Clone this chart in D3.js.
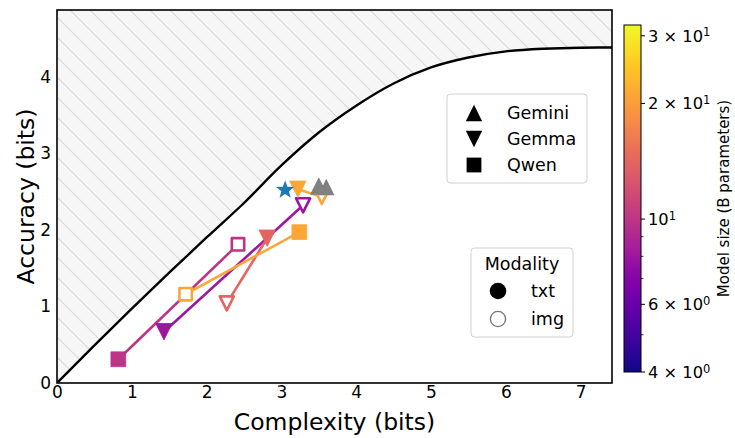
<!DOCTYPE html>
<html>
<head>
<meta charset="utf-8">
<script src="https://cdn.jsdelivr.net/npm/d3@7"></script>
<style>
  html, body { margin: 0; padding: 0; background: #fff; }
  svg { display: block; font-family: "DejaVu Sans", sans-serif; }
</style>
</head>
<body>
<svg id="chart" width="735" height="438"></svg>
<script>
// ---- data ----
const families = ["Gemini", "Gemma", "Qwen"];
const modalities = ["txt", "img"];

// one entry per model: text-input point and image-input point
const modelFamily     = ["Gemini", "Gemma", "Gemma", "Gemma", "Qwen", "Qwen"];
const modelSize       = [null,     8,       14,      21,      10,     21];   // B parameters (null = undisclosed)
const txtComplexity   = [3.50,     1.43,    2.81,    3.22,    0.82,   3.24];
const txtAccuracy     = [2.57,     0.67,    1.89,    2.53,    0.31,   1.97];
const imgComplexity   = [3.60,     3.29,    2.27,    3.54,    2.42,   1.72];
const imgAccuracy     = [2.56,     2.32,    1.04,    2.43,    1.81,   1.16];

// reference point (star)
const refComplexity = [3.05];
const refAccuracy   = [2.52];

// theoretical bound: accuracy achievable at a given complexity
const boundComplexity = [0, 0.5, 1.0, 1.5, 2.0, 2.5, 3.0, 3.5, 4.0, 4.5, 5.0, 5.5, 6.0, 6.5, 7.0, 7.42];
const boundAccuracy   = [0, 0.49, 0.97, 1.44, 1.90, 2.35, 2.84, 3.27, 3.62, 3.91, 4.12, 4.25, 4.33, 4.365, 4.378, 4.38];

const xTicks = [0, 1, 2, 3, 4, 5, 6, 7];
const yTicks = [0, 1, 2, 3, 4];
const cbMajorTicks = [4, 6, 10, 20, 30];
const cbMajorLabels = [["4", "0"], ["6", "0"], ["", "1"], ["2", "1"], ["3", "1"]];
const cbMinorTicks = [5, 7, 8, 9];

// ---- layout ----
const svg = d3.select("#chart");
const plot = { left: 57, right: 612, top: 10, bottom: 383 };
const x = d3.scaleLinear().domain([0, 7.42]).range([plot.left, plot.right]);
const y = d3.scaleLinear().domain([0, 4.87]).range([plot.bottom, plot.top]);

const sizeColor = d3.scaleSequentialLog(d3.interpolatePlasma).domain([4, 32]);
const colorOf = i => modelSize[i] == null ? "#808080" : sizeColor(modelSize[i]);

const tickFont = 17, legendFont = 17.5, labelFont = 23.5;

// marker shapes centred on their bounding box
function markerPath(family, r) {
  if (family === "Gemini") return `M0,${-r}L${r},${r}L${-r},${r}Z`;
  if (family === "Gemma")  return `M0,${r}L${r},${-r}L${-r},${-r}Z`;
  return `M${-r},${-r}H${r}V${r}H${-r}Z`;
}
function starPath(R) {
  const r = R * 0.42, pts = [];
  for (let k = 0; k < 10; k++) {
    const a = -Math.PI / 2 + k * Math.PI / 5, rr = k % 2 ? r : R;
    pts.push([rr * Math.cos(a), rr * Math.sin(a)]);
  }
  return "M" + pts.map(p => p.join(",")).join("L") + "Z";
}

// ---- hatched infeasible region ----
const defs = svg.append("defs");
const pat = defs.append("pattern")
  .attr("id", "hatch").attr("patternUnits", "userSpaceOnUse")
  .attr("width", 20).attr("height", 20);
pat.append("rect").attr("width", 20).attr("height", 20).attr("fill", "#f6f6f6");
pat.append("path").attr("d", "M-5,-5L25,25M-5,15L5,25M15,-5L25,5")
  .attr("stroke", "#d9d9d9").attr("stroke-width", 1.1);

defs.append("clipPath").attr("id", "plotclip").append("rect")
  .attr("x", plot.left).attr("y", plot.top)
  .attr("width", plot.right - plot.left).attr("height", plot.bottom - plot.top);

const boundPts = boundComplexity.map((c, i) => [c, boundAccuracy[i]]);
const boundLine = d3.line().x(d => x(d[0])).y(d => y(d[1])).curve(d3.curveMonotoneX);
const area = d3.area().x(d => x(d[0])).y0(plot.top).y1(d => y(d[1])).curve(d3.curveMonotoneX);

const g = svg.append("g").attr("clip-path", "url(#plotclip)");
g.append("path").datum(boundPts).attr("d", area).attr("fill", "url(#hatch)");
g.append("path").datum(boundPts).attr("d", boundLine)
  .attr("fill", "none").attr("stroke", "#000").attr("stroke-width", 2.4);

// ---- txt → img connectors ----
modelFamily.forEach((f, i) => {
  g.append("line")
    .attr("x1", x(txtComplexity[i])).attr("y1", y(txtAccuracy[i]))
    .attr("x2", x(imgComplexity[i])).attr("y2", y(imgAccuracy[i]))
    .attr("stroke", colorOf(i)).attr("stroke-width", 2.6);
});

// ---- markers ----
function drawMarkers(i) {
  const f = modelFamily[i], c = colorOf(i), r = f === "Qwen" ? 7.4 : 8.2;
  // image-input (hollow, except undisclosed-size models)
  const hollow = modelSize[i] != null;
  g.append("path").attr("d", markerPath(f, hollow ? r - 1.2 : r))
    .attr("transform", `translate(${x(imgComplexity[i])},${y(imgAccuracy[i])})`)
    .attr("fill", hollow ? "#fff" : c).attr("stroke", c)
    .attr("stroke-width", hollow ? 2.6 : 0).attr("stroke-linejoin", "round");
  // text-input (filled)
  g.append("path").attr("d", markerPath(f, r))
    .attr("transform", `translate(${x(txtComplexity[i])},${y(txtAccuracy[i])})`)
    .attr("fill", c).attr("stroke", c).attr("stroke-width", 0.8).attr("stroke-linejoin", "round");
}
[1, 2, 3, 4, 5, 0].forEach(drawMarkers);

refComplexity.forEach((c, i) => {
  g.append("path").attr("d", starPath(9.5))
    .attr("transform", `translate(${x(c)},${y(refAccuracy[i])})`)
    .attr("fill", "#1f77b4");
});

// ---- axes frame & ticks ----
svg.append("rect").attr("x", plot.left).attr("y", plot.top)
  .attr("width", plot.right - plot.left).attr("height", plot.bottom - plot.top)
  .attr("fill", "none").attr("stroke", "#000").attr("stroke-width", 1.6);

const xAxis = svg.append("g").attr("transform", `translate(0,${plot.bottom})`)
  .call(d3.axisBottom(x).tickValues(xTicks).tickSize(0).tickPadding(3).tickFormat(d3.format("d")));
const yAxis = svg.append("g").attr("transform", `translate(${plot.left},0)`)
  .call(d3.axisLeft(y).tickValues(yTicks).tickSize(0).tickPadding(6).tickFormat(d3.format("d")));
[xAxis, yAxis].forEach(a => {
  a.select(".domain").remove();
  a.selectAll("text").attr("font-size", tickFont).attr("fill", "#000")
    .attr("font-family", "DejaVu Sans, sans-serif");
});

svg.append("text").attr("x", (plot.left + plot.right) / 2).attr("y", 430)
  .attr("text-anchor", "middle").attr("font-size", labelFont).text("Complexity (bits)");
svg.append("text").attr("transform", `translate(34,${(plot.top + plot.bottom) / 2}) rotate(-90)`)
  .attr("text-anchor", "middle").attr("font-size", labelFont).text("Accuracy (bits)");

// ---- legends ----
function legendBox(x0, y0, w, h) {
  svg.append("rect").attr("x", x0).attr("y", y0).attr("width", w).attr("height", h)
    .attr("rx", 3.5).attr("fill", "#fff").attr("fill-opacity", 0.8)
    .attr("stroke", "#d0d0d0").attr("stroke-width", 1);
}
legendBox(447, 94, 140, 89);
families.forEach((f, k) => {
  const cy = 113 + k * 26;
  svg.append("path").attr("d", markerPath(f, f === "Qwen" ? 7.4 : 8.2))
    .attr("transform", `translate(474,${cy})`).attr("fill", "#000");
  svg.append("text").attr("x", 507).attr("y", cy).attr("dy", "0.36em")
    .attr("font-size", legendFont).text(f);
});

legendBox(471, 248, 102, 89);
svg.append("text").attr("x", 522).attr("y", 264).attr("dy", "0.36em")
  .attr("text-anchor", "middle").attr("font-size", legendFont).text("Modality");
modalities.forEach((m, k) => {
  const cy = 291 + k * 28;
  svg.append("circle").attr("cx", 498).attr("cy", cy).attr("r", m === "txt" ? 8.3 : 7.6)
    .attr("fill", m === "txt" ? "#000" : "#fff")
    .attr("stroke", m === "txt" ? "none" : "#777").attr("stroke-width", 1.4);
  svg.append("text").attr("x", 531).attr("y", cy).attr("dy", "0.36em")
    .attr("font-size", legendFont).text(m);
});

// ---- colorbar ----
const cb = { left: 624, right: 641, top: 25, bottom: 372 };
const cbScale = d3.scaleLog().domain(sizeColor.domain()).range([cb.bottom, cb.top]);
const grad = defs.append("linearGradient").attr("id", "cbgrad")
  .attr("x1", 0).attr("y1", 1).attr("x2", 0).attr("y2", 0);
d3.range(0, 1.0001, 0.02).forEach(t => {
  grad.append("stop").attr("offset", t).attr("stop-color", d3.interpolatePlasma(t));
});
svg.append("rect").attr("x", cb.left).attr("y", cb.top)
  .attr("width", cb.right - cb.left).attr("height", cb.bottom - cb.top)
  .attr("fill", "url(#cbgrad)").attr("stroke", "#000").attr("stroke-width", 1);

cbMinorTicks.forEach(v => {
  svg.append("line").attr("x1", cb.right).attr("x2", cb.right + 2.5)
    .attr("y1", cbScale(v)).attr("y2", cbScale(v)).attr("stroke", "#000").attr("stroke-width", 0.8);
});
cbMajorTicks.forEach((v, k) => {
  const yy = cbScale(v);
  svg.append("line").attr("x1", cb.right).attr("x2", cb.right + 4)
    .attr("y1", yy).attr("y2", yy).attr("stroke", "#000").attr("stroke-width", 1);
  const [mant, ex] = cbMajorLabels[k];
  const t = svg.append("text").attr("x", 648).attr("y", yy).attr("dy", "0.36em").attr("font-size", 16.3);
  t.append("tspan").text(mant ? mant + " \u00d7 10" : "10");
  t.append("tspan").attr("dy", "-0.45em").attr("font-size", 11.5).text(ex);
});
svg.append("text").attr("transform", `translate(729,${(cb.top + cb.bottom) / 2}) rotate(-90)`)
  .attr("text-anchor", "middle").attr("font-size", 15).text("Model size (B parameters)");
</script>
</body>
</html>
